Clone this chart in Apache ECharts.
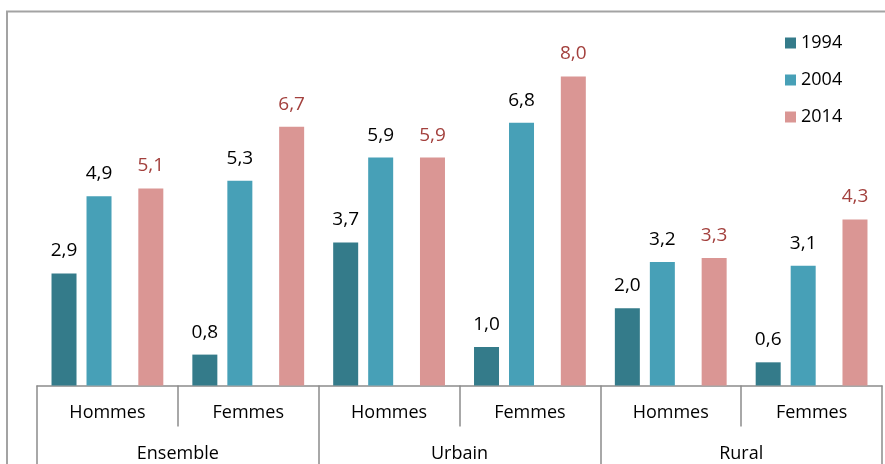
<!DOCTYPE html>
<html>
<head>
<meta charset="utf-8">
<script src="https://cdn.jsdelivr.net/npm/echarts@6/dist/echarts.min.js"></script>
<style>
  html, body { margin: 0; padding: 0; background: #fff; }
  #chart { width: 885px; height: 464px; }
</style>
</head>
<body>
<div id="chart"></div>
<script>
// categories (two levels)
const sexes = ['Hommes', 'Femmes', 'Hommes', 'Femmes', 'Hommes', 'Femmes'];
const zones = ['Ensemble', 'Urbain', 'Rural'];
// values per year
const years = ['1994', '2004', '2014'];
const v1994 = [2.9, 0.8, 3.7, 1.0, 2.0, 0.6];
const v2004 = [4.9, 5.3, 5.9, 6.8, 3.2, 3.1];
const v2014 = [5.1, 6.7, 5.9, 8.0, 3.3, 4.3];

const colors = ['#347b8a', '#47a0b7', '#da9694'];
const fontFam = '"Open Sans", sans-serif';

function fmt(p) {
  return p.value.toFixed(1).replace('.', ',');
}

function barSeries(name, data, color, labelColor) {
  return {
    name: name,
    type: 'bar',
    data: data,
    barWidth: 25,
    barGap: '40%',
    itemStyle: { color: color },
    label: {
      show: true,
      position: 'top',
      distance: 13,
      formatter: fmt,
      fontFamily: fontFam,
      fontSize: 19,
      color: labelColor
    }
  };
}

let chart = echarts.init(document.getElementById('chart'));
chart.setOption({
  animation: false,
  graphic: [{
    type: 'rect',
    z: -10,
    shape: { x: 7, y: 11.5, width: 1000, height: 1000 },
    style: { fill: 'none', stroke: '#a3a3a3', lineWidth: 2 }
  }],
  legend: {
    data: years,
    orient: 'vertical',
    left: 785,
    top: 34,
    padding: 0,
    icon: 'rect',
    itemWidth: 11,
    itemHeight: 11,
    itemGap: 19,
    textStyle: { fontFamily: fontFam, fontSize: 18, color: '#000', lineHeight: 18 }
  },
  grid: { left: 37, right: 3, top: 76.5, bottom: 78.5 },
  xAxis: [
    {
      type: 'category',
      data: sexes,
      axisLine: { lineStyle: { color: '#8c8c8c', width: 1.5 } },
      axisTick: { show: true, interval: 0, length: 41, lineStyle: { color: '#8c8c8c', width: 1.5 } },
      axisLabel: { interval: 0, margin: 18, fontFamily: fontFam, fontSize: 18, color: '#000' }
    },
    {
      type: 'category',
      position: 'bottom',
      data: zones,
      axisLine: { show: false },
      axisTick: { show: true, interval: 0, length: 80, lineStyle: { color: '#8c8c8c', width: 1.5 } },
      axisLabel: { interval: 0, margin: 59, fontFamily: fontFam, fontSize: 18, color: '#000' }
    }
  ],
  yAxis: { type: 'value', min: 0, max: 8, show: false },
  series: [
    barSeries('1994', v1994, colors[0], '#000'),
    barSeries('2004', v2004, colors[1], '#000'),
    // empty spacer to reproduce the wider gap before 2014
    { name: 'spacer', type: 'bar', data: [], barWidth: 12, barGap: '40%', silent: true },
    barSeries('2014', v2014, colors[2], '#a3403d')
  ]
});
</script>
</body>
</html>
